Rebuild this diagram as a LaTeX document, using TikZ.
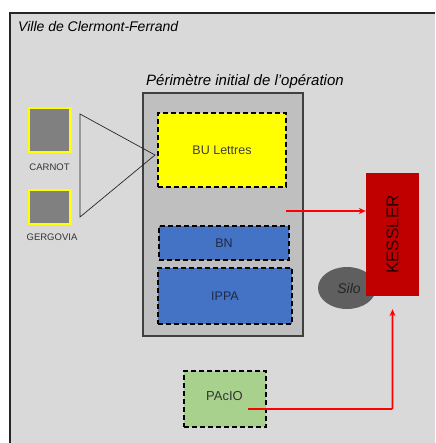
\documentclass[tikz,border=0pt]{standalone}
\usepackage{fontspec}
\setmainfont{Liberation Sans}
\usetikzlibrary{shapes.geometric,arrows.meta}
\definecolor{bgray}{HTML}{D9D9D9}
\definecolor{pgray}{HTML}{BFBFBF}
\definecolor{sqgray}{HTML}{808080}
\definecolor{byellow}{HTML}{FFFF00}
\definecolor{bblue}{HTML}{4472C4}
\definecolor{bgreen}{HTML}{A9D18E}
\definecolor{kred}{HTML}{C00000}
\definecolor{silogray}{HTML}{5F5F5F}
\definecolor{navytext}{HTML}{1F2A44}
\begin{document}
\begin{tikzpicture}[x=1pt,y=-1pt,
  dashbox/.style={draw=black,line width=1.8pt,dash pattern=on 5pt off 3pt,inner sep=0pt},
  sqbox/.style={draw=byellow,line width=2.5pt,fill=sqgray,inner sep=0pt},
  redarrow/.style={draw=red,line width=1.6pt,-{Stealth[length=7pt,width=6pt]}},
  lbl/.style={font=\fontsize{9.5}{11}\selectfont,text=black!80}
]
\useasboundingbox (0,0) rectangle (435,443);
\fill[white] (0,0) rectangle (435,443);
% outer frame
\fill[bgray] (10,13) rectangle (435,443);
\draw[line width=2pt,black!85] (10,443) -- (10,13) -- (435,13);
\node[anchor=west,inner sep=0pt,font=\itshape\fontsize{14}{16}\selectfont] (ville) at (18,27) {Ville de Clermont-Ferrand};
% perimeter
\node[anchor=base,inner sep=0pt,font=\itshape\fontsize{15}{17}\selectfont] (perimlbl) at (245,86) {Périmètre initial de l’opération};
\node[draw=black!75,line width=1.2pt,fill=pgray,minimum width=160pt,minimum height=243pt,inner sep=0pt] (perim) at (223,214.5) {};
\node[dashbox,fill=byellow,minimum width=128pt,minimum height=74pt,font=\fontsize{12.5}{14}\selectfont,text=black!75] (bu) at (222,150) {BU Lettres};
\node[dashbox,fill=bblue,minimum width=130pt,minimum height=34pt,font=\fontsize{12.5}{14}\selectfont,text=navytext] (bn) at (224,243) {BN};
\node[dashbox,fill=bblue,minimum width=134pt,minimum height=56pt,font=\fontsize{12.5}{14}\selectfont,text=navytext] (ippa) at (225,296) {IPPA};
% squares
\node[sqbox,minimum width=41.5pt,minimum height=44pt] (carnot) at (49.5,130) {};
\node[lbl] (carnotlbl) at (49.5,167) {CARNOT};
\node[sqbox,minimum width=41.5pt,minimum height=34pt] (gergovia) at (49.5,207) {};
\node[lbl] (gergovialbl) at (52,237) {GERGOVIA};
% triangle
\coordinate (t1) at (80,114);
\coordinate (t2) at (80,217);
\coordinate (t3) at (155,155);
\draw[line width=0.7pt,black!85] (t1) -- (t3) -- (t2) -- cycle;
% silo and kessler
\node[ellipse,fill=silogray,minimum width=58pt,minimum height=42pt,inner sep=0pt] (silo) at (347,288) {};
\node[fill=kred,minimum width=53pt,minimum height=123pt,inner sep=0pt] (kessler) at (392.5,234.5) {};
\node[rotate=90,font=\fontsize{17}{19}\selectfont,text=black!85!red] (kesslerlbl) at (kessler.center) {KESSLER};
\node[font=\itshape\fontsize{14}{16}\selectfont,text=black!85] (silolbl) at (349,288) {Silo};
% pacio
\node[dashbox,fill=bgreen,minimum width=82pt,minimum height=56pt] (pacio) at (225,399) {};
\node[font=\fontsize{13}{15}\selectfont,text=black!80] (paciolbl) at (224.5,396) {PAcIO};
% arrows
\coordinate (a1) at (286,211);
\draw[redarrow] (a1) -- (a1 -| kessler.west);
\coordinate (p1) at (248,409);
\draw[redarrow,shorten >=13pt,rounded corners=1pt] (p1) -| (kessler.south);
\end{tikzpicture}
\end{document}
